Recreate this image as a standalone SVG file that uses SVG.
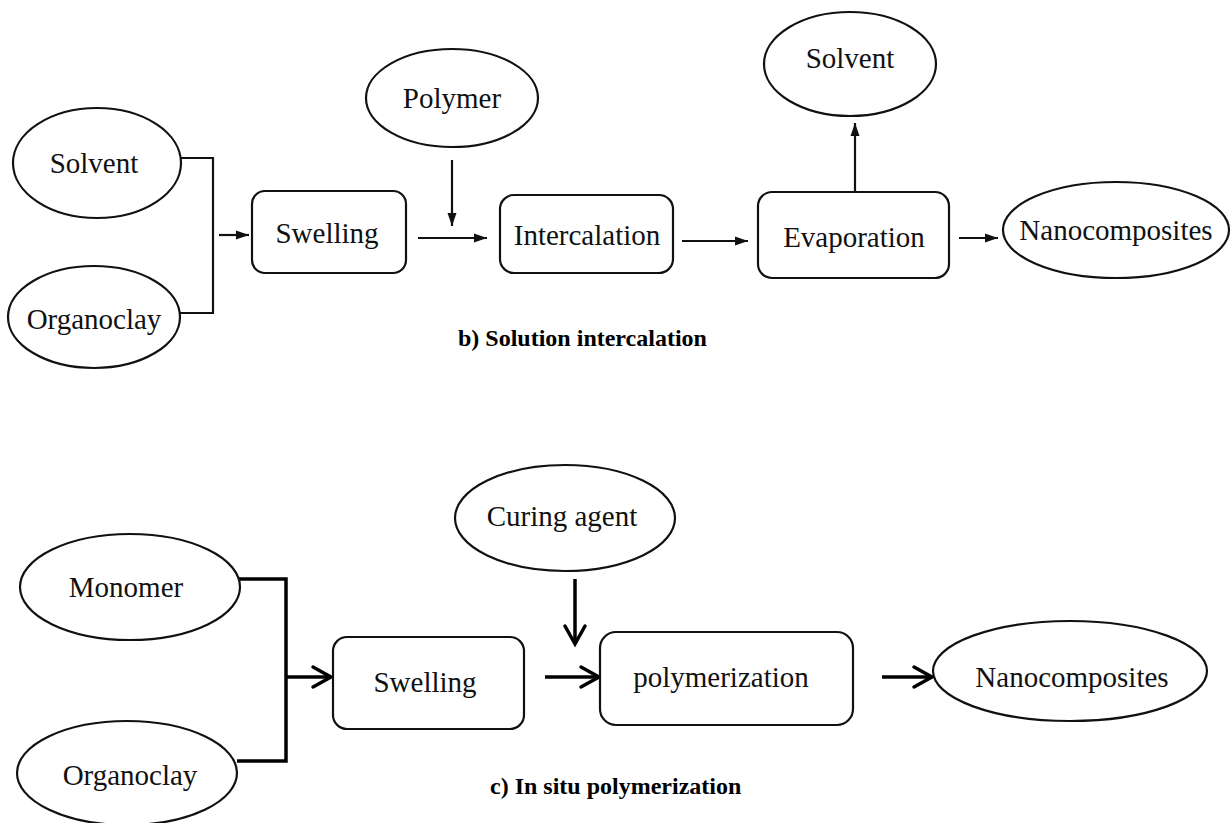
<svg xmlns="http://www.w3.org/2000/svg" width="1232" height="823" viewBox="0 0 1232 823">
<defs>
<style>
.node{fill:#fff;stroke:#111;stroke-width:2.2}
.lbl{font-family:"Liberation Serif","Times New Roman",serif;font-size:29px;fill:#111;text-anchor:middle}
.cap{font-family:"Liberation Serif","Times New Roman",serif;font-size:24px;font-weight:bold;fill:#000}
.c1{fill:none;stroke:#111;stroke-width:2.2}
.c2{fill:none;stroke:#000;stroke-width:3.5}
</style>
<marker id="fa" markerUnits="userSpaceOnUse" markerWidth="14" markerHeight="10" refX="13" refY="5" orient="auto" overflow="visible">
<path d="M0,0.5 L13,5 L0,9.5 z" fill="#111"/>
</marker>
<marker id="va" markerUnits="userSpaceOnUse" markerWidth="22" markerHeight="24" refX="19" refY="11" orient="auto" overflow="visible">
<path d="M1,1 L19,11 L1,21" fill="none" stroke="#000" stroke-width="3.5" stroke-linecap="round" stroke-linejoin="miter"/>
</marker>
</defs>
<rect width="1232" height="823" fill="#fff"/>

<g id="connectors">
<path class="c1" d="M180,158 H213 V313 H180"/>
<line class="c1" x1="219" y1="235" x2="249" y2="235" stroke-width="3" marker-end="url(#fa)"/>
<line class="c1" x1="452" y1="160" x2="452" y2="226" marker-end="url(#fa)"/>
<line class="c1" x1="418" y1="238" x2="487" y2="238" marker-end="url(#fa)"/>
<line class="c1" x1="682" y1="241" x2="748" y2="241" marker-end="url(#fa)"/>
<line class="c1" x1="855" y1="191" x2="855" y2="123" marker-end="url(#fa)"/>
<line class="c1" x1="959" y1="238" x2="998" y2="238" marker-end="url(#fa)"/>

<path class="c2" d="M239,579 H286 V761 H237"/>
<line class="c2" x1="286" y1="677" x2="331" y2="677" marker-end="url(#va)"/>
<line class="c2" x1="575" y1="579" x2="575" y2="644" marker-end="url(#va)"/>
<line class="c2" x1="545" y1="677" x2="599" y2="677" marker-end="url(#va)"/>
<line class="c2" x1="882" y1="677" x2="932" y2="677" marker-end="url(#va)"/>
</g>

<g id="solvent1"><ellipse class="node" cx="97" cy="163" rx="84" ry="55"/><text class="lbl" x="94" y="173">Solvent</text></g>
<g id="organoclay1"><ellipse class="node" cx="94" cy="317" rx="86" ry="51"/><text class="lbl" x="94" y="329">Organoclay</text></g>
<g id="swelling1"><rect class="node" x="252" y="191" width="154" height="82" rx="13"/><text class="lbl" x="327" y="243">Swelling</text></g>
<g id="polymer"><ellipse class="node" cx="452" cy="98" rx="86" ry="49"/><text class="lbl" x="452" y="108">Polymer</text></g>
<g id="intercalation"><rect class="node" x="500" y="195" width="173" height="78" rx="14"/><text class="lbl" x="587" y="245">Intercalation</text></g>
<g id="evaporation"><rect class="node" x="758" y="192" width="191" height="86" rx="14"/><text class="lbl" x="854" y="247">Evaporation</text></g>
<g id="solvent2"><ellipse class="node" cx="850" cy="64" rx="86" ry="52"/><text class="lbl" x="850" y="68">Solvent</text></g>
<g id="nano1"><ellipse class="node" cx="1116" cy="230" rx="113" ry="48"/><text class="lbl" x="1116" y="240">Nanocomposites</text></g>
<g id="caption-b"><text class="cap" x="458" y="346">b) Solution intercalation</text></g>

<g id="monomer"><ellipse class="node" cx="130" cy="587" rx="110" ry="53"/><text class="lbl" x="126" y="597">Monomer</text></g>
<g id="organoclay2"><ellipse class="node" cx="127" cy="773" rx="110" ry="52"/><text class="lbl" x="130" y="785">Organoclay</text></g>
<g id="swelling2"><rect class="node" x="333" y="637" width="191" height="92" rx="14"/><text class="lbl" x="425" y="692">Swelling</text></g>
<g id="curing"><ellipse class="node" cx="565" cy="518" rx="110" ry="53"/><text class="lbl" x="562" y="526">Curing agent</text></g>
<g id="polymerization"><rect class="node" x="600" y="632" width="253" height="93" rx="16"/><text class="lbl" x="721" y="687">polymerization</text></g>
<g id="nano2"><ellipse class="node" cx="1070" cy="671" rx="137" ry="50"/><text class="lbl" x="1072" y="687">Nanocomposites</text></g>
<g id="caption-c"><text class="cap" x="490" y="794">c) In situ polymerization</text></g>
</svg>
